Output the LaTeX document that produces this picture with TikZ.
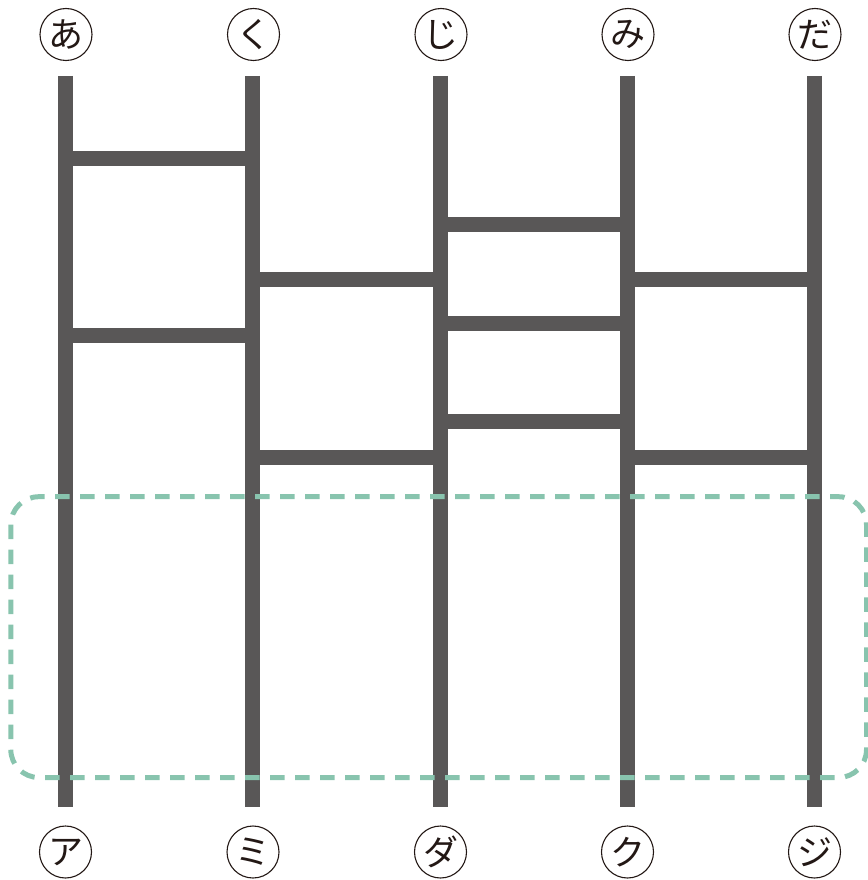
\documentclass[tikz,border=0pt]{standalone}
\usepackage{fontspec}
\newfontfamily\jp{Noto Sans CJK JP}
\definecolor{ladder}{HTML}{595757}
\definecolor{dashgreen}{HTML}{88C4AE}
\definecolor{ink}{HTML}{231815}
\tikzset{
  post/.style={draw=ladder, line width=15pt, line cap=butt},
  rung/.style={draw=ladder, line width=15pt, line cap=butt},
  label/.style={circle, draw=ink, line width=1.1pt, minimum size=52pt, inner sep=0pt, text=ink, font=\jp\fontsize{35}{35}\selectfont},
  zone/.style={draw=dashgreen, line width=5pt, dash pattern=on 14.5pt off 10.5pt, rounded corners=28pt}
}
\begin{document}
\begin{tikzpicture}[x=1pt,y=-1pt]
\useasboundingbox (0,0) rectangle (867,880);
% posts
\foreach \i/\x in {1/65.5,2/252.75,3/440,4/627.25,5/814.5}{
  \coordinate (T\i) at (\x,76);
  \coordinate (B\i) at (\x,807);
}
\foreach \i in {1,...,5}{ \draw[post] (T\i) -- (B\i); }
% rungs
\foreach \a/\b/\y in {1/2/158.5, 1/2/335.5, 2/3/279.5, 2/3/457.5, 3/4/224, 3/4/323.5, 3/4/421.5, 4/5/279.5, 4/5/457.5}{
  \draw[rung] (T\a |- 0,\y) -- (T\b |- 0,\y);
}
% dashed zone
\draw[zone] (10.8,496.7) rectangle (866.5,777.5);
% labels
\node[label] (t1) at (66,34.5) {あ};
\node[label] (t2) at (253.5,34.5) {く};
\node[label] (t3) at (441,34.5) {じ};
\node[label] (t4) at (628,34.5) {み};
\node[label] (t5) at (815,34.5) {だ};
\node[label] (b1) at (65.5,852) {ア};
\node[label] (b2) at (253,852) {ミ};
\node[label] (b3) at (440.5,852) {ダ};
\node[label] (b4) at (627.5,852) {ク};
\node[label] (b5) at (814.5,852) {ジ};
\end{tikzpicture}
\end{document}
